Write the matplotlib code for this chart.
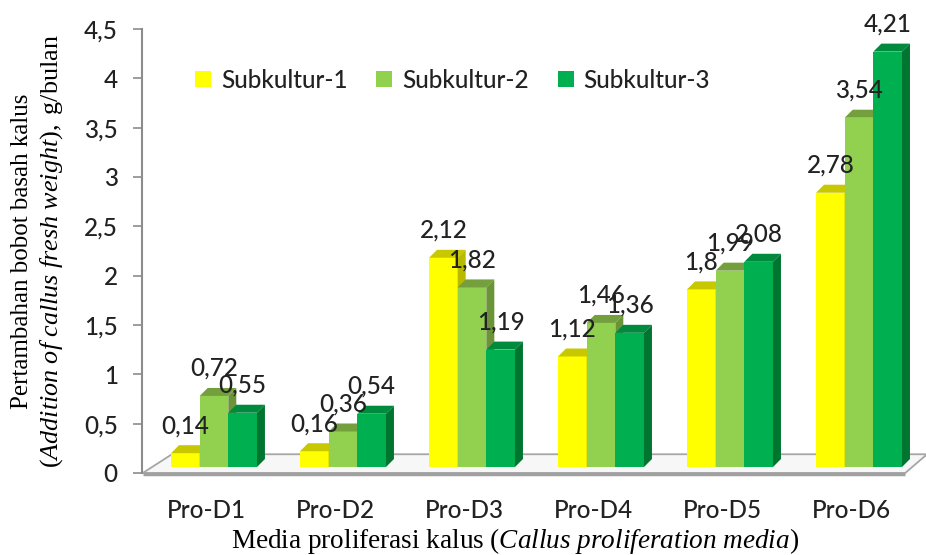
import matplotlib
matplotlib.use('Agg')
import matplotlib.pyplot as plt
from matplotlib.patches import Polygon, Patch
from matplotlib.transforms import ScaledTranslation

media = ['Pro-D1', 'Pro-D2', 'Pro-D3', 'Pro-D4', 'Pro-D5', 'Pro-D6']
series_names = ['Subkultur-1', 'Subkultur-2', 'Subkultur-3']
subkultur_1 = [0.14, 0.16, 2.12, 1.12, 1.80, 2.78]
subkultur_2 = [0.72, 0.36, 1.82, 1.46, 1.99, 3.54]
subkultur_3 = [0.55, 0.54, 1.19, 1.36, 2.08, 4.21]
y_ticks = [0, 0.5, 1, 1.5, 2, 2.5, 3, 3.5, 4, 4.5]

front_colors = ['#FFFF00', '#92D050', '#00B050']
top_colors = ['#C8C800', '#739F3C', '#008A3E']
side_colors = ['#B9B900', '#6A9437', '#007530']

plt.rcParams['font.family'] = ['Lato', 'DejaVu Sans']
plt.rcParams['font.weight'] = 'medium'
plt.rcParams['mathtext.fontset'] = 'custom'
plt.rcParams['mathtext.rm'] = 'Liberation Serif'
plt.rcParams['mathtext.it'] = 'Liberation Serif:italic'

TXT = '#222222'
FS = 17.5


def comma(v):
    return f'{v:g}'.replace('.', ',')


fig = plt.figure(figsize=(9.26, 5.55), dpi=100)
ax = fig.add_axes([142 / 926, 82 / 555, 785 / 926, 444 / 555])
ax.set_xlim(-0.496, 5.589)
ax.set_ylim(0, 4.5)

# 3D look: bars sit a little behind the front edge of the floor
bar_tr = ax.transData + ScaledTranslation(0.08, 0.06, fig.dpi_scale_trans)
width = 0.222
dx, dy = 0.062, 0.081

# floor slab
floor = Polygon([(-0.49, 0), (5.42, 0), (5.59, 0.19), (-0.264, 0.19)],
                closed=True, facecolor='#f7f7f7', edgecolor='#a6a6a6',
                lw=1.3, clip_on=False, zorder=1)
ax.add_patch(floor)
ax.plot([-0.49, 5.42], [-0.012, -0.012], color='#a0a0a0', lw=2.5,
        clip_on=False, zorder=1, solid_capstyle='butt')

series = [subkultur_1, subkultur_2, subkultur_3]
for i in range(len(media)):
    for j, vals in enumerate(series):
        v = vals[i]
        x0 = i + (j - 1) * width - width / 2
        x1 = x0 + width
        z = 3 + j
        ax.bar(x0, v, width, align='edge', color=front_colors[j],
               transform=bar_tr, zorder=z, linewidth=0)
        ax.add_patch(Polygon([(x0, v), (x1, v), (x1 + dx, v + dy), (x0 + dx, v + dy)],
                             closed=True, facecolor=top_colors[j], lw=0,
                             transform=bar_tr, zorder=z, clip_on=False))
        ax.add_patch(Polygon([(x1, 0), (x1 + dx, dy), (x1 + dx, v + dy), (x1, v)],
                             closed=True, facecolor=side_colors[j], lw=0,
                             transform=bar_tr, zorder=z, clip_on=False))
        ax.annotate(comma(v), xy=(x0 + width / 2, v), xycoords=bar_tr,
                    xytext=(0, 14.4), textcoords='offset points',
                    ha='center', va='baseline', fontsize=FS,
                    color=TXT, zorder=10)

for s in ['top', 'right', 'bottom']:
    ax.spines[s].set_visible(False)
ax.spines['left'].set_color('#8c8c8c')
ax.spines['left'].set_linewidth(1.5)
ax.spines['left'].set_bounds(0, 4.5)

ax.set_yticks(y_ticks)
ax.set_yticklabels([comma(t) for t in y_ticks])
ax.tick_params(axis='y', length=6.5, width=1.2, color='#8c8c8c',
               pad=11, labelsize=FS, labelcolor=TXT)
ax.set_xticks(range(len(media)))
ax.set_xticklabels(media)
ax.tick_params(axis='x', length=0, pad=19, labelsize=FS, labelcolor=TXT)

handles = [Patch(facecolor=c, edgecolor='none') for c in front_colors]
ax.legend(handles, series_names, ncol=3, loc='upper left',
          bbox_to_anchor=(0.04, 0.96), frameon=False, fontsize=FS,
          handlelength=0.65, handleheight=0.65, handletextpad=0.4,
          columnspacing=1.2, labelcolor=TXT)

fig.text(515 / 926, 7 / 555,
         r'$\mathrm{Media\ proliferasi\ kalus\ }\mathit{(Callus\ proliferation\ media)}$',
         ha='center', va='baseline', fontsize=19.6)
fig.text(22 / 926, 304 / 555, 'Pertambahan bobot basah kalus', family='Liberation Serif',
         weight='normal', rotation=90, ha='center', va='center', fontsize=18)
fig.text(52 / 926, 304 / 555,
         r'$\mathrm{(}\mathit{Addition\ of\ callus\ fresh\ weight}\mathrm{),\ g/bulan}$',
         rotation=90, ha='center', va='center', fontsize=18.8)

fig.savefig('out.png', dpi=100, facecolor='white')
